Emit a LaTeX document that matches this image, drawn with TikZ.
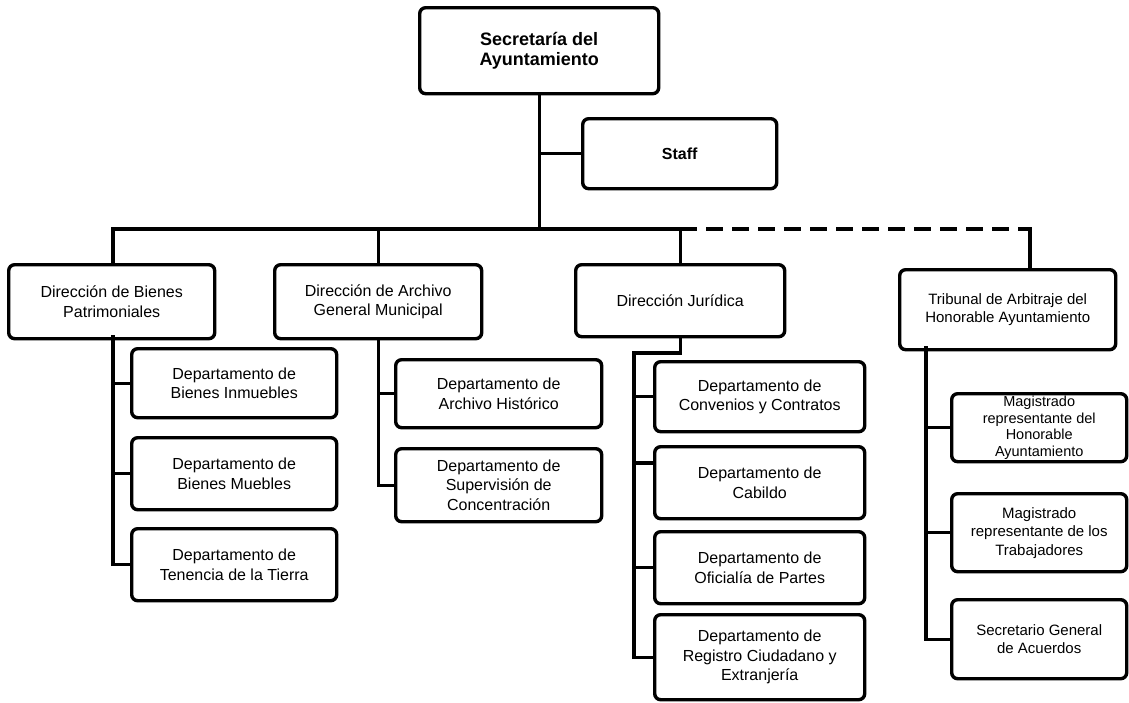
\documentclass[tikz,border=0pt]{standalone}
\usepackage{fontspec}
\setmainfont{Liberation Sans}
\begin{document}
\begin{tikzpicture}[x=1pt,y=-1pt]
\tikzset{
  orgbox/.style={draw=black, line width=3.4pt, rounded corners=6pt, fill=white,
    align=center, inner sep=1pt, anchor=north west,
    font=\fontsize{16}{19.5}\selectfont},
  smallbox/.style={orgbox, font=\fontsize{15}{18.5}\selectfont},
  tightbox/.style={orgbox, font=\fontsize{14.5}{16.5}\selectfont},
  titlebox/.style={orgbox, font=\bfseries\fontsize{18}{20}\selectfont},
  staffbox/.style={orgbox, font=\bfseries\fontsize{16}{19}\selectfont},
  link/.style={line width=3.4pt, line cap=rect},
  dashlink/.style={line width=3.6pt, dash pattern=on 17pt off 9pt},
}
\useasboundingbox (0,0) rectangle (1129,702);
\fill[white] (0,0) rectangle (1129,702);

% top levels
\node[titlebox, minimum width=239pt, minimum height=86pt] (top) at (418,6) {Secretaría del\\Ayuntamiento};
\node[staffbox, minimum width=194pt, minimum height=70pt] (staff) at (581,117) {Staff};

\node[orgbox, minimum width=206pt, minimum height=74pt] (bienes) at (7,263) {Dirección de Bienes\\Patrimoniales};
\node[orgbox, minimum width=207pt, minimum height=74pt] (archivo) at (273,263) {Dirección de Archivo\\General Municipal};
\node[orgbox, minimum width=209pt, minimum height=72pt] (juridica) at (574,263) {Dirección Jurídica};
\node[smallbox, minimum width=216pt, minimum height=80pt] (tribunal) at (898,268) {Tribunal de Arbitraje del\\Honorable Ayuntamiento};

% Bienes departments
\node[orgbox, minimum width=205pt, minimum height=69pt] (inmuebles) at (130,347) {Departamento de\\Bienes Inmuebles};
\node[orgbox, minimum width=205pt, minimum height=72pt] (muebles) at (130,436) {Departamento de\\Bienes Muebles};
\node[orgbox, minimum width=205pt, minimum height=72pt] (tenencia) at (130,527) {Departamento de\\Tenencia de la Tierra};

% Archivo departments
\node[orgbox, minimum width=206pt, minimum height=68pt] (historico) at (394,358) {Departamento de\\Archivo Histórico};
\node[orgbox, minimum width=206pt, minimum height=73pt] (supervision) at (394,447) {Departamento de\\Supervisión de\\Concentración};

% Juridica departments
\node[orgbox, minimum width=210pt, minimum height=70pt] (convenios) at (653,360) {Departamento de\\Convenios y Contratos};
\node[orgbox, minimum width=210pt, minimum height=72pt] (cabildo) at (653,445) {Departamento de\\Cabildo};
\node[orgbox, minimum width=210pt, minimum height=72pt] (oficialia) at (653,530) {Departamento de\\Oficialía de Partes};
\node[orgbox, minimum width=210pt, minimum height=85pt] (registro) at (653,613) {Departamento de\\Registro Ciudadano y\\Extranjería};

% Tribunal members
\node[tightbox, minimum width=175pt, minimum height=68pt] (honorable) at (950,392) {Magistrado\\representante del\\Honorable\\Ayuntamiento};
\node[smallbox, minimum width=175pt, minimum height=78pt] (trabajadores) at (950,492) {Magistrado\\representante de los\\Trabajadores};
\node[smallbox, minimum width=175pt, minimum height=79pt] (secretario) at (950,598) {Secretario General\\de Acuerdos};

% junction coordinates
\coordinate (bus) at (540,229);
\coordinate (tdrop) at (1030,229);
\coordinate (jspine) at (634,353);
\coordinate (tspine) at (926,348);
\coordinate (bspine) at (113,337);
\coordinate (cabin) at ([yshift=-18pt]cabildo.north west);

% connectors
\draw[link] (top.south) -- (top.south |- bus);
\draw[link] (staff.west -| top.south) -- (staff.west);
\draw[link] (bienes.north -| bspine) -- (bspine |- bus) -- (juridica.north |- bus) -- (juridica.north);
\draw[link] (archivo.north) -- (archivo.north |- bus);
\draw[dashlink] (juridica.north |- bus) -- (tdrop);
\draw[link] (tdrop) -- (tdrop |- tribunal.north);

\draw[link] (bspine) |- (tenencia.west);
\draw[link] (bspine |- inmuebles.west) -- (inmuebles.west);
\draw[link] (bspine |- muebles.west) -- (muebles.west);

\draw[link] (archivo.south) |- (supervision.west);
\draw[link] (archivo.south |- historico.west) -- (historico.west);

\draw[link] (juridica.south) |- (jspine) |- (registro.west);
\draw[link] (jspine |- convenios.west) -- (convenios.west);
\draw[link] (jspine |- cabin) -- (cabin);
\draw[link] (jspine |- oficialia.west) -- (oficialia.west);

\draw[link] (tspine) |- (secretario.west);
\draw[link] (tspine |- honorable.west) -- (honorable.west);
\draw[link] (tspine |- trabajadores.west) -- (trabajadores.west);
\end{tikzpicture}
\end{document}
